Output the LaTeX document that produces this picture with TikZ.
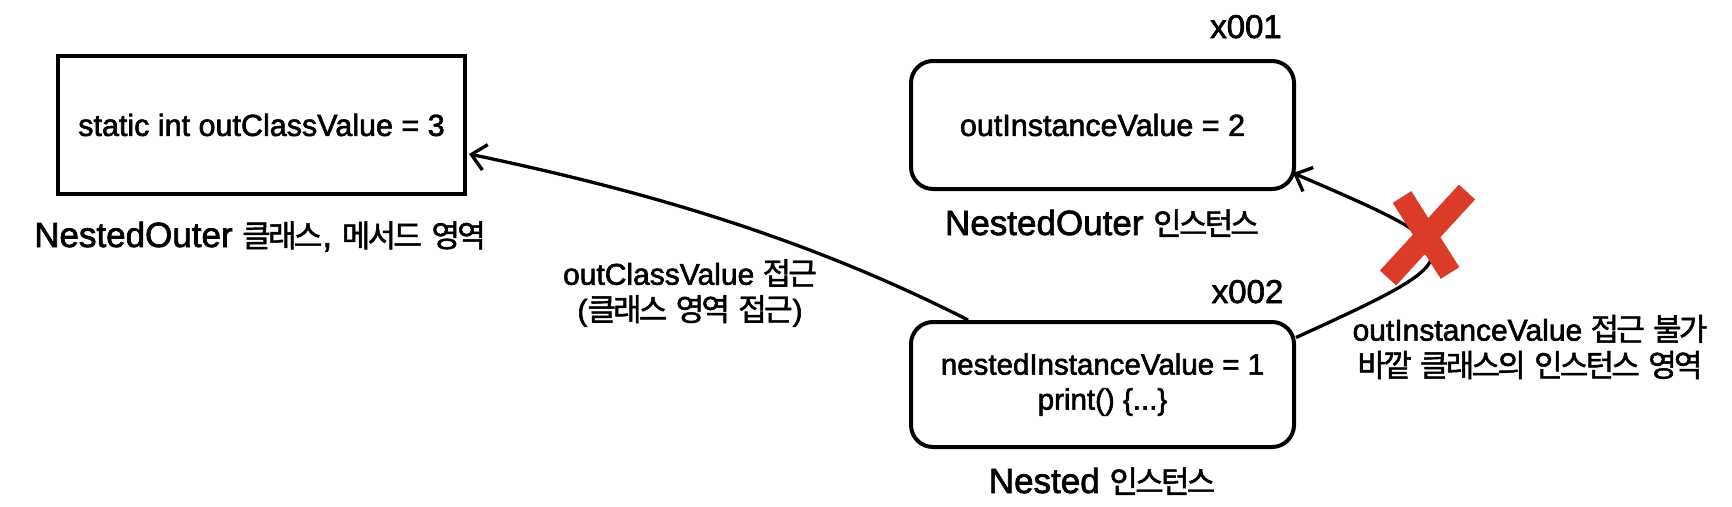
\documentclass[tikz,border=0pt]{standalone}
\usepackage{fontspec}
\setmainfont{Liberation Sans}[FakeBold=2]
\newfontfamily\kr{Noto Sans CJK KR}[FakeBold=1.5,LetterSpace=-9]
\newcommand\K[1]{{\fontsize{31}{34}\kr #1}}
\usetikzlibrary{arrows.meta,calc}
\definecolor{xred}{RGB}{219,60,42}
\begin{document}
\begin{tikzpicture}[x=1pt,y=-1pt,
  box/.style={draw, line width=4pt, inner sep=0pt, align=center,
    font=\fontsize{30.5}{35}\selectfont},
  rbox/.style={box, rounded corners=22pt},
  lbl/.style={anchor=base, inner sep=0pt, font=\fontsize{35}{40}\selectfont},
  addr/.style={anchor=base, inner sep=0pt, font=\fontsize{33}{38}\selectfont},
  note/.style={anchor=center, inner sep=0pt, align=center, font=\fontsize{30}{36}\selectfont},
  conn/.style={line width=3.3pt, -{Straight Barb[length=14pt,width=26pt,line width=3.3pt]}},
  cross/.style={xred, line width=22pt, line cap=butt}]
\useasboundingbox (0,0) rectangle (1732,506);

\node[box, minimum width=407pt, minimum height=138pt] (cls) at (261.5,125) {static int outClassValue = 3};
\node[lbl] (clslbl) at (260,247) {NestedOuter \K{클래스}, \K{메서드} \K{영역}};

\node[rbox, minimum width=383pt, minimum height=128pt] (out) at (1102.5,125) {outInstanceValue = 2};
\node[addr] (a1) at (1246,38) {x001};
\node[lbl] (outlbl) at (1102,235) {NestedOuter \K{인스턴스}};

\node[rbox, minimum width=383pt, minimum height=125pt, font=\fontsize{29.5}{35}\selectfont] (nest) at (1102.5,384.5) {nestedInstanceValue = 1\\print() \{...\}};
\node[addr] (a2) at (1247.5,303) {x002};
\node[lbl] (nestlbl) at (1102,493) {Nested \K{인스턴스}};

\coordinate (s1) at ($(nest.north west)+(59,0)$);
\coordinate (e1) at ($(cls.east)+(2,29)$);
\draw[conn] (s1) .. controls +(-167,-85) and +(167,35) .. (e1);
\node[note] (n1) at (690,293) {outClassValue \K{접근}\\(\K{클래스} \K{영역} \K{접근})};

\coordinate (s2) at ($(nest.east)+(0,-47)$);
\coordinate (e2) at ($(out.east)+(-3,48)$);
\draw[conn] (s2) .. controls +(182,-83) and +(184,79) .. (e2);

\coordinate (x1a) at (1402,197);
\coordinate (x1b) at (1450,273);
\coordinate (x2a) at (1467,192);
\coordinate (x2b) at (1388,278);
\draw[cross] (x1a) -- (x1b);
\draw[cross] (x2a) -- (x2b);

\node[note] (n2) at (1530,347) {outInstanceValue \K{접근} \K{불가}\\\K{바깥} \K{클래스의} \K{인스턴스} \K{영역}};
\end{tikzpicture}
\end{document}
